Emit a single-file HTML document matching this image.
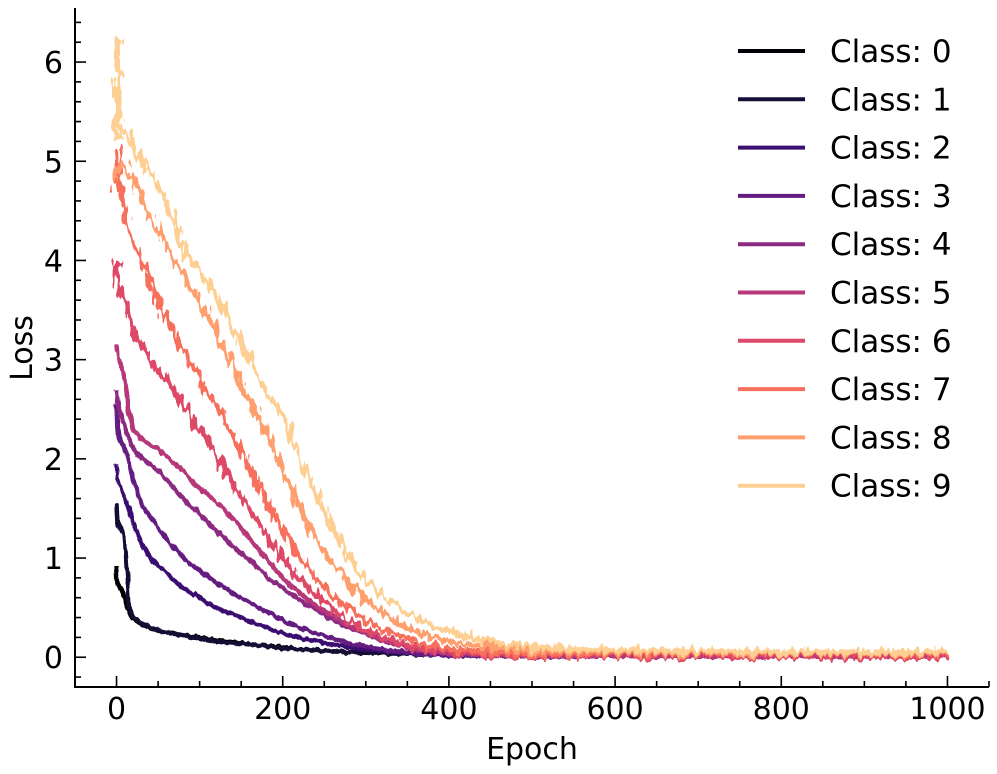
<!DOCTYPE html>
<html><head><meta charset="utf-8">
<style>
html,body{margin:0;padding:0;background:#fff;}
svg{display:block;font-family:"DejaVu Sans","Liberation Sans",sans-serif;}
</style></head>
<body>
<svg id="chart" width="997" height="774" viewBox="0 0 997 774">
<defs>
<filter id="noise" x="-5%" y="-5%" width="110%" height="110%">
<feTurbulence type="fractalNoise" baseFrequency="0.2 0.06" numOctaves="2" seed="3" result="t"/>
<feDisplacementMap in="SourceGraphic" in2="t" scale="16" xChannelSelector="R" yChannelSelector="G"/>
</filter>
<filter id="noiseS" x="-5%" y="-5%" width="110%" height="110%">
<feTurbulence type="fractalNoise" baseFrequency="0.2 0.06" numOctaves="2" seed="5" result="t"/>
<feDisplacementMap in="SourceGraphic" in2="t" scale="5" xChannelSelector="R" yChannelSelector="G"/>
</filter>
</defs>
<g id="series"></g>
<g id="axes"></g>
<g id="legend"></g>
</svg>
<script>
const epochs=[0,1,3,5,10,15,20,30,40,50,60,70,80,90,100,115,130,145,160,175,190,200,220,240,260,280,300,325,350,375,400,450,500,550,600,700,800,900,950,1000];
const c0=[0.92,0.75,0.72,0.7,0.6,0.45,0.38,0.33,0.29,0.27,0.25,0.24,0.22,0.21,0.2,0.18,0.16,0.15,0.13,0.12,0.11,0.1,0.08,0.07,0.06,0.05,0.045,0.04,0.035,0.03,0.025,0.02,0.02,0.015,0.015,0.01,0.01,0.01,0.01,0.01];
const c1=[1.55,1.35,1.32,1.3,1.2,0.5,0.4,0.34,0.3,0.27,0.25,0.23,0.22,0.2,0.19,0.17,0.15,0.14,0.13,0.12,0.1,0.09,0.08,0.07,0.06,0.05,0.045,0.04,0.035,0.03,0.025,0.02,0.02,0.015,0.015,0.01,0.01,0.01,0.01,0.01];
const c2=[1.95,1.8,1.75,1.72,1.6,1.5,1.35,1.15,1.02,0.92,0.85,0.77,0.7,0.65,0.6,0.52,0.46,0.42,0.36,0.32,0.27,0.24,0.2,0.16,0.13,0.1,0.08,0.06,0.04,0.03,0.02,0.015,0.01,0.01,0.01,0.01,0.01,0.01,0.01,0.01];
const c3=[2.55,2.3,2.25,2.2,2.1,1.95,1.8,1.55,1.42,1.3,1.2,1.1,1.0,0.93,0.88,0.78,0.7,0.62,0.55,0.48,0.42,0.38,0.3,0.24,0.19,0.14,0.11,0.07,0.05,0.03,0.02,0.015,0.01,0.01,0.01,0.01,0.01,0.01,0.01,0.01];
const c4=[2.7,2.6,2.5,2.45,2.3,2.2,2.1,2.0,1.95,1.88,1.8,1.7,1.6,1.52,1.45,1.32,1.2,1.08,0.98,0.86,0.75,0.7,0.58,0.48,0.38,0.3,0.24,0.15,0.1,0.06,0.04,0.02,0.02,0.015,0.01,0.01,0.01,0.01,0.01,0.01];
const c5=[3.15,3.05,3.0,2.95,2.8,2.5,2.3,2.2,2.15,2.1,2.02,1.95,1.88,1.78,1.7,1.6,1.48,1.35,1.2,1.05,0.9,0.8,0.65,0.52,0.42,0.32,0.25,0.16,0.1,0.06,0.04,0.03,0.02,0.015,0.01,0.01,0.01,0.01,0.01,0.01];
const c6=[4.0,3.75,3.7,3.65,3.6,3.45,3.3,3.15,3.0,2.9,2.8,2.68,2.55,2.45,2.3,2.1,1.9,1.7,1.5,1.3,1.12,1.0,0.8,0.62,0.48,0.36,0.28,0.18,0.11,0.07,0.05,0.03,0.02,0.02,0.015,0.01,0.01,0.01,0.01,0.01];
const c7=[4.7,5.1,4.9,4.7,4.45,4.3,4.2,4.0,3.8,3.6,3.4,3.25,3.1,2.95,2.8,2.6,2.4,2.15,1.9,1.65,1.42,1.3,1.0,0.8,0.62,0.48,0.38,0.26,0.18,0.12,0.08,0.05,0.04,0.03,0.03,0.03,0.03,0.04,0.03,0.03];
const c8=[4.8,4.95,4.9,4.95,4.95,4.85,4.85,4.6,4.45,4.3,4.15,4.0,3.85,3.7,3.6,3.35,3.1,2.85,2.6,2.35,2.1,1.9,1.5,1.2,0.95,0.75,0.58,0.42,0.3,0.22,0.16,0.1,0.07,0.06,0.05,0.04,0.04,0.04,0.04,0.04];
const c9=[5.2,6.2,5.5,5.35,5.3,5.25,5.15,5.0,4.9,4.75,4.6,4.35,4.1,4.0,3.9,3.7,3.5,3.25,3.0,2.75,2.55,2.45,2.0,1.65,1.3,1.0,0.78,0.58,0.45,0.35,0.26,0.15,0.1,0.08,0.07,0.06,0.05,0.05,0.05,0.05];
const seriesValues=[c0,c1,c2,c3,c4,c5,c6,c7,c8,c9];
const classLabels=["Class: 0","Class: 1","Class: 2","Class: 3","Class: 4","Class: 5","Class: 6","Class: 7","Class: 8","Class: 9"];
const colors=["#000004","#140e36","#3b0f70","#641a80","#8c2981","#b73779","#de4968","#f7705c","#fe9f6d","#fecf92"];
const xTicks=[0,200,400,600,800,1000];
const yTicks=[0,1,2,3,4,5,6];

const NS="http://www.w3.org/2000/svg";
const X0=75,X1=989,Y0=687,Y1=8;
const xMin=-50,xMax=1050,yMin=-0.3,yMax=6.545;
function xs(v){return X0+(v-xMin)/(xMax-xMin)*(X1-X0);}
function ys(v){return Y0-(v-yMin)/(yMax-yMin)*(Y0-Y1);}
function mk(tag,attrs,parent){const e=document.createElementNS(NS,tag);for(const k in attrs)e.setAttribute(k,attrs[k]);parent.appendChild(e);return e;}

const sg=document.getElementById('series');
seriesValues.forEach((vals,i)=>{
  const d=vals.map((v,j)=>(j?'L':'M')+xs(epochs[j]).toFixed(1)+' '+ys(v).toFixed(1)).join(' ');
  const p=mk('path',{d:d,fill:'none',stroke:colors[i],'stroke-width':i>=6?5.5:4.5,'stroke-linejoin':'round',filter:i>=6?'url(#noise)':'url(#noiseS)'},sg);
  
  
});

const ag=document.getElementById('axes');
const ls=mk('line',{x1:X0,y1:Y1,x2:X0,y2:Y0+1,stroke:'#000','stroke-width':2},ag);


const bs=mk('line',{x1:X0-1,y1:Y0,x2:X1,y2:Y0,stroke:'#000','stroke-width':2},ag);


for(let v=-50;v<=1050;v+=50){const isMaj=xTicks.includes(v);mk('line',{x1:xs(v),x2:xs(v),y1:Y0,y2:Y0-(isMaj?11:6),stroke:'#000','stroke-width':1.6},ag);}
for(let k=-1;k<=32;k++){const v=k*0.2;if(v<yMin||v>yMax)continue;const isMaj=Math.abs(v-Math.round(v))<1e-6;mk('line',{x1:X0,x2:X0+(isMaj?11:6),y1:ys(v),y2:ys(v),stroke:'#000','stroke-width':1.6},ag);}
xTicks.forEach(v=>{const t=mk('text',{x:xs(v),y:719,'font-size':30,'text-anchor':'middle',fill:'#000'},ag);t.textContent=v;
  
  });
yTicks.forEach(v=>{const t=mk('text',{x:X0-12,y:ys(v)+11,'font-size':30,'text-anchor':'end',fill:'#000'},ag);t.textContent=v;
  
  });
const xt=mk('text',{x:532,y:759,'font-size':30,'text-anchor':'middle',fill:'#000'},ag);xt.textContent='Epoch';


const yt=mk('text',{x:0,y:0,'font-size':30,'text-anchor':'middle',fill:'#000',transform:'translate(32,348) rotate(-90)'},ag);yt.textContent='Loss';



const lg=document.getElementById('legend');
classLabels.forEach((lab,i)=>{
  const y=51+i*48.3;
  const g=mk('g',{},lg);
  
  
  mk('line',{x1:738,x2:805,y1:y,y2:y,stroke:colors[i],'stroke-width':4},g);
  const t=mk('text',{x:830,y:y+11,'font-size':31,fill:'#000'},g);t.textContent=lab;
});
</script>
</body></html>
